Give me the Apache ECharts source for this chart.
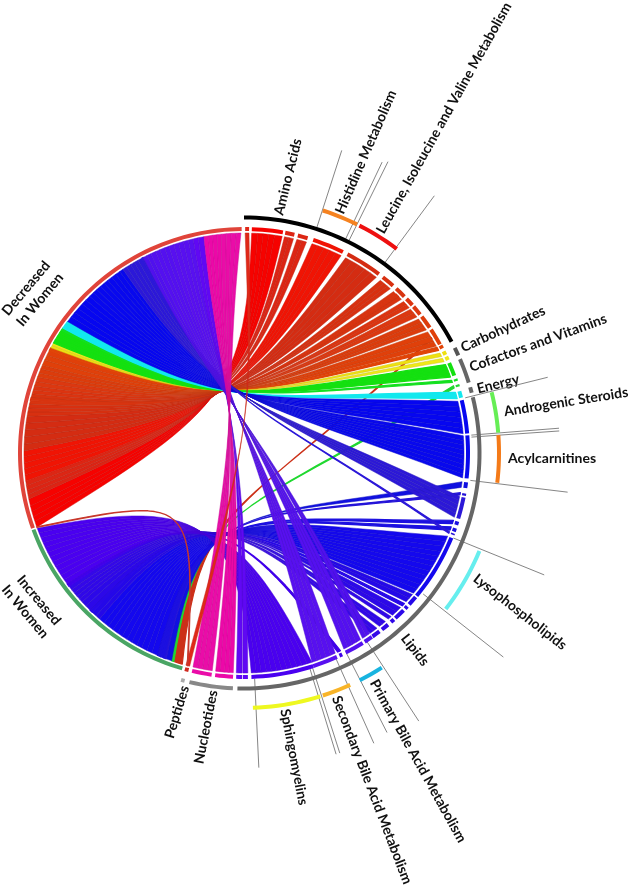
<!DOCTYPE html>
<html><head><meta charset="utf-8">
<style>html,body{margin:0;padding:0;background:#fff}#c{width:629px;height:885px}</style>
<script src="https://cdn.jsdelivr.net/npm/echarts@6/dist/echarts.min.js"></script>
</head><body><div id="c"></div>
<script>
// Each link: [start angle on the right arc, widths of the strands in degrees, target, colour]
const aminoAcidLinks = [
  [0.3,[1.0],'P','#e02818'],
  [2,[1.6,1.4,1.5,1.5,2.0],'DA','#f60200'],
  [10.6,[1.2,1.2],'DA','#dc2414'],
  [13.9,[1.3,1.3],'DA','#dc2614'],
  [18,[1.6,1.7,1.6,1.7,1.6],'DA','#f01404'],
  [27.5,[1.8,2.0,1.9,1.9,1.9],'DA','#d42c12'],
  [38.3,[1.2,1.1,1.1],'DA','#d83010'],
  [42.8,[1.0,0.9,1.0],'DA','#d83410'],
  [46.5,[1.1,1.1],'DA','#dc3410'],
  [49.2,[1.3,1.3],'DA','#dc3810'],
  [52.5,[1.2,1.2,1.1],'DA','#dc3c0c'],
  [56.6,[1.5,1.5,1.4],'DA','#e0400a'],
  [58.4,[0.3],'IA','#cc3018'],
  [61.3,[0.9],'DA','#e04408']
];
const carbohydrateLinks = [[63,[1.0],'DY','#eee010'],[64.5,[1.0],'DY','#eee818']];
const cofactorLinks = [
  [66.3,[0.9,0.9,0.9,0.8],'DG','#14e010'],
  [70.7,[0.6],'DG','#14e020'],
  [72.2,[0.6],'IG','#20d830']
];
const energyLinks = [[74,[0.9,0.8],'DC','#12e8ee']];
const lipidLinks = [
  [76.4,[1.5,1.4,1.4,1.5,1.4,1.4],'DL','#0606f0'],
  [85.5,[1.3,1.2,1.3,1.2,1.2,1.3,1.2,1.3,1.0],'DL','#0808ee'],
  [97.5,[1.5],'IL','#1010e0'],
  [100.4,[0.6],'IL','#2414d8'],
  [101.4,[1.1,1.2,1.1,1.1,1.1],'DL','#2c18d8'],
  [107.8,[0.9],'IL','#1c10e0'],
  [109.6,[0.9],'IL','#1c10e0'],
  [111,[0.4],'DL','#2c18d8'],
  [112.2,[1.5,1.4,1.5,1.4,1.5,1.4,1.5,1.4,1.4,1.5,1.4,1.5],'IL','#1408ee'],
  [130,[1.2,1.3],'IL','#2408e8'],
  [133.2,[0.8],'IL','#2808e8'],
  [134.6,[1.5,1.4],'IL','#2c08e8'],
  [138,[1.0],'IL','#3008e8'],
  [140,[1.0,1.0],'IL','#3008e8'],
  [142.8,[1.1,1.1],'IL','#3408e8'],
  [145.2,[1.1,1.1],'DL','#5010ee'],
  [148,[1.3,1.2,1.3,1.2],'DL','#5410f0'],
  [154,[0.8],'IL','#4000ea'],
  [155.5,[1.3,1.3,1.3,1.3,1.3],'DL','#5810f0'],
  [162,[1.3,1.4,1.3,1.4,1.3,1.4,1.3,1.4,1.3,1.4,1.3,1.3],'IL','#4a00f0'],
  [179,[1.3],'DL','#6008f4'],
  [180.5,[1.5],'DL','#6008f4']
];
const nucleotideLinks = [[182.8,[1.2,1.1,1.2,1.1],'DN','#ec08a8'],[188.3,[1.3,1.3,1.3,1.2],'DN','#ea0ca8']];
const peptideLinks = [[194.75,[0.2],'Q','#c8382c']];

// Target spans on the left arcs [from, to]
const targetSpans = {DA:[250.3,298.6],DY:[298.6,300],DG:[300,304.6],DC:[304.6,306.7],DL:[306.7,349.5],DN:[349.5,359.2],
                     IA:[196.3,198.6],IG:[198.6,199.2],IL:[199.2,250],P:[194.3,195.3],Q:[250.2,250.4]};
const targetDrawOrder = ['IA','IG','IL','DA','DY','DG','DC','DL','DN','P','Q'];
// Ring segments: [from, to, colour]
const inRingLeft = [[250.4,359.4,'#e0443a'],[196,250,'#4aa564'],[194.3,195.3,'#d02a20']];
const groupRing = [[0,61.8,'#000000'],[63.5,65.5,'#555555'],[66.5,72.6,'#666666'],[73.8,75.2,'#666666'],
                   [76.3,181.6,'#666666'],[182.7,193.4,'#888888'],[194.6,195.5,'#aaaaaa']];
const pathwayRing = [[18,26.3,'#f58220'],[26.9,36.8,'#ee1010'],[76.2,85.4,'#66ee55'],[86,96.7,'#f47a18'],
                     [112.6,127.7,'#66eeee'],[147.3,153,'#18b4e0'],[155.4,162,'#f8b428'],[162.6,178,'#eef820']];
// Leader lines: [angle, inner radius, outer radius]
const leaderLines = [[17.9,236,318],[25.4,236,322],[26.3,236,325],[36.5,236,320],[76,228,313],[85.5,228,316],[86,228,316],
                     [96.9,228,326],[112.1,226,324],[128.2,228,330],[146.9,224,320],[152.9,224,314],[155.9,224,318],
                     [162.3,224,315],[163,224,315],[177.3,226,315]];
const labels = ['Amino Acids','Histidine Metabolism','Leucine, Isoleucine and Valine Metabolism','Carbohydrates','Cofactors and Vitamins','Energy','Androgenic Steroids','Acylcarnitines','Lysophospholipids','Lipids','Primary Bile Acid Metabolism','Secondary Bile Acid Metabolism','Sphingomyelins','Nucleotides','Peptides','Decreased\nIn Women','Increased\nIn Women'];
const labelPlace = [[288,177,76],[366,152,66.5],[444,118,60.8],[503,329,25],[538,343,20],[498,384,14],[566,402,9],[552,458,0],[520,612,-38],[415,650,-52],[418,761,-61],[372,790,-69],[294,757,-79],[206,727,79],[177,712,73],[33,294,50],[32,606,-50]];

// Bend controls [radius, angle]: one pair per bundle (right end, left end)
const bends = [
  [[58,1],[46.5,331.8]],       // towards Decreased
  [[67.5,185.1],[61.6,225.3]], // towards Increased
  [[64.5,229.4],[64.5,229.4]], // peptide arc
  [[34,13.6],[34,13.6]]        // peptide strand
];
const bendOf = {I:1,Q:2,P:3,D:0};
const R_RIB = 220, R_IN0 = 222, R_IN1 = 226, R_OUT0 = 233.5, R_OUT1 = 237.5, R_PW0 = 253, R_PW1 = 257;

const allLinks = [].concat(aminoAcidLinks,carbohydrateLinks,cofactorLinks,energyLinks,lipidLinks,nucleotideLinks,peptideLinks);
const ribbonRows = [], ribbonColours = [], inRingRows = inRingLeft.slice();
const byTarget = {};
allLinks.forEach(l => { (byTarget[l[2]] = byTarget[l[2]] || []).push(l); });
targetDrawOrder.forEach(t => {
  const ls = byTarget[t] || [], span = targetSpans[t];
  const tot = ls.reduce((s,l)=>s+l[1].reduce((a,b)=>a+b,0),0);
  const k = (span[1]-span[0])/tot;
  let pos = span[0];
  ls.forEach(l => {
    let a = l[0];
    l[1].forEach(w => {
      ribbonRows.push([a,a+w,pos,pos+w*k,bendOf[t[0]]]);
      ribbonColours.push(l[3]);
      a += w; pos += w*k;
    });
  });
});
allLinks.forEach(l => {
  if (l[2]==='Q'||(l[2]==='IA')) return;
  inRingRows.push([l[0],l[0]+l[1].reduce((a,b)=>a+b,0),l[3]]);
});
function shade(hex,k){
  const n=parseInt(hex.slice(1),16);
  return 'rgb('+[(n>>16)&255,(n>>8)&255,n&255].map(v=>Math.round(v*k+40*(1-k))).join(',')+')';
}
function bez(p0,c0,c1,p1,n,out){
  for(let i=0;i<=n;i++){const t=i/n,u=1-t,a=u*u*u,b=3*u*u*t,c=3*u*t*t,d=t*t*t;
    out.push([a*p0[0]+b*c0[0]+c*c1[0]+d*p1[0],a*p0[1]+b*c0[1]+c*c1[1]+d*p1[1]]);}
}
function renderRibbon(params,api){
  const a0=api.value(0),a1=api.value(1),b0=api.value(2),b1=api.value(3),f=bends[api.value(4)];
  const cr=api.coord(f[0]),cl=api.coord(f[1]),pts=[];
  const A0=api.coord([R_RIB,a0]),A1=api.coord([R_RIB,a1]),B0=api.coord([R_RIB,b0]),B1=api.coord([R_RIB,b1]);
  pts.push(A0);pts.push(api.coord([R_RIB,(a0+a1)/2]));
  bez(A1,cr,cl,B1,30,pts);
  pts.push(api.coord([R_RIB,(b0+b1)/2]));
  bez(B0,cl,cr,A0,30,pts);
  const thin=(a1-a0)<0.95, col=ribbonColours[params.dataIndex];
  return {type:'polygon',shape:{points:pts},silent:true,
    style:{fill:col,stroke:thin?col:shade(col,0.84),lineWidth:thin?1.2:0.5,lineJoin:'round'}};
}
function renderBand(r0,r1,colours){
  return function(params,api){
    const a0=api.value(0),a1=api.value(1),n=Math.max(2,Math.ceil((a1-a0)/1.5)),pts=[];
    for(let i=0;i<=n;i++)pts.push(api.coord([r1,a0+(a1-a0)*i/n]));
    for(let i=n;i>=0;i--)pts.push(api.coord([r0,a0+(a1-a0)*i/n]));
    return {type:'polygon',shape:{points:pts},silent:true,style:{fill:colours[params.dataIndex][2]}};
  };
}
function renderLeader(params,api){
  const p=api.coord([api.value(1),api.value(0)]),q=api.coord([api.value(2),api.value(0)]);
  return {type:'line',shape:{x1:p[0],y1:p[1],x2:q[0],y2:q[1]},silent:true,style:{stroke:'#777777',lineWidth:0.9}};
}
const band=(rows,r0,r1)=>({type:'custom',coordinateSystem:'polar',animation:false,silent:true,clip:false,
  data:rows.map(r=>[r[0],r[1]]),renderItem:renderBand(r0,r1,rows)});

const chart=echarts.init(document.getElementById('c'),null,{renderer:'canvas'});
chart.setOption({
  animation:false,backgroundColor:'#fff',
  polar:{center:[244,453],radius:460},
  angleAxis:{type:'value',min:0,max:360,startAngle:90,clockwise:true,show:false},
  radiusAxis:{type:'value',min:0,max:460,show:false},
  series:[
    {type:'custom',coordinateSystem:'polar',animation:false,silent:true,clip:false,data:ribbonRows,renderItem:renderRibbon},
    {type:'custom',coordinateSystem:'polar',animation:false,silent:true,clip:false,data:leaderLines,renderItem:renderLeader},
    band(inRingRows,R_IN0,R_IN1),
    band(groupRing,R_OUT0,R_OUT1),
    band(pathwayRing,R_PW0,R_PW1)
  ],
  graphic:{elements:labels.map((t,i)=>({type:'text',x:labelPlace[i][0],y:labelPlace[i][1],
    rotation:labelPlace[i][2]*Math.PI/180,silent:true,
    style:{text:t,fill:'#111',font:'bold 14px Lato',align:'center',verticalAlign:'middle',lineHeight:18}}))}
});
</script></body></html>
